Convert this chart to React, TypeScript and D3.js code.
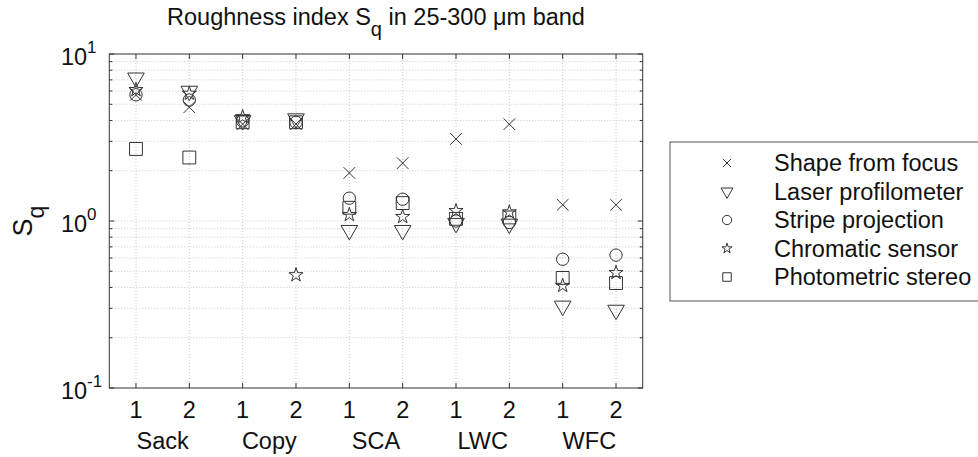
import React from "react";
import * as d3 from "d3";

const groups = ["Sack", "Copy", "SCA", "LWC", "WFC"];
const subLabels = ["1", "2", "1", "2", "1", "2", "1", "2", "1", "2"];
const seriesNames = ["Shape from focus", "Laser profilometer", "Stripe projection", "Chromatic sensor", "Photometric stereo"];
const shapeFromFocus = [5.7, 4.8, 3.8, 3.8, 1.94, 2.22, 3.1, 3.8, 1.25, 1.25];
const laserProfilometer = [7.2, 6.0, 4.0, 4.1, 0.88, 0.88, 0.97, 0.96, 0.31, 0.293];
const stripeProjection = [5.7, 5.3, 3.97, 3.9, 1.37, 1.35, 1.0, 0.98, 0.59, 0.625];
const chromaticSensor = [6.1, 5.8, 4.2, 0.475, 1.09, 1.06, 1.15, 1.13, 0.41, 0.49];
const photometricStereo = [2.7, 2.4, 3.9, 3.9, 1.2, 1.28, 1.03, 1.05, 0.456, 0.425];
const yMajorTicks = [0.1, 1, 10];
const yExponents = ["-1", "0", "1"];

const W = 978, H = 457;
const FONT = "'Liberation Sans', Arial, sans-serif";
const AX = "#333";
const GRID = "#c8c8c8";
const FS = 23.5;

const x = d3.scaleLinear().domain([0.5, 10.5]).range([109.3, 642.7]);
const y = d3.scaleLog().domain([0.1, 10]).range([388, 54]);

const symbols = [
  { type: d3.symbolTimes, size: 90, lsize: 45, rot: 0 },
  { type: d3.symbolTriangle, size: 120, lsize: 62, rot: 180 },
  { type: d3.symbolCircle, size: 120, lsize: 68, rot: 0 },
  { type: d3.symbolStar, size: 62, lsize: 32, rot: 0 },
  { type: d3.symbolSquare, size: 165, lsize: 72, rot: 0 },
];
const allSeries = [shapeFromFocus, laserProfilometer, stripeProjection, chromaticSensor, photometricStereo];

export default function App() {
  const [x0, x1] = x.range();
  const [yb, yt] = y.range();
  const xs = d3.range(1, 11);
  const minor: number[] = [];
  [0.1, 1].forEach((d) => { for (let k = 2; k <= 9; k++) minor.push(d * k); });
  const drawOrder = [4, 3, 2, 1, 0];
  const legX = 670, legY = 142, legH = 159, legStep = 28.5;
  return (
    <svg width={W} height={H} style={{ position: "absolute", left: 0, top: 0, background: "#fff" }} fontFamily={FONT}>
      <rect width={W} height={H} fill="#fff" />
      {/* grid */}
      {xs.map((v) => (
        <line key={"gx" + v} x1={x(v)} x2={x(v)} y1={yt} y2={yb} stroke={GRID} strokeDasharray="1,2" />
      ))}
      {[...yMajorTicks.slice(1, 2), ...minor].map((v, i) => (
        <line key={"gy" + i} x1={x0} x2={x1} y1={y(v)} y2={y(v)} stroke={GRID} strokeDasharray="1,2" />
      ))}
      {/* ticks */}
      {xs.map((v) => (
        <g key={"tx" + v}>
          <line x1={x(v)} x2={x(v)} y1={yb} y2={yb - 5} stroke={AX} />
          <line x1={x(v)} x2={x(v)} y1={yt} y2={yt + 5} stroke={AX} />
          <text x={x(v)} y={418} textAnchor="middle" fontSize={FS} fill="#111">{subLabels[v - 1]}</text>
        </g>
      ))}
      {groups.map((g, i) => (
        <text key={g} x={(x(2 * i + 1) + x(2 * i + 2)) / 2} y={449} textAnchor="middle" fontSize={FS} fill="#111">{g}</text>
      ))}
      {yMajorTicks.map((v, i) => (
        <g key={"ty" + v}>
          <line x1={x0} x2={x0 + 5} y1={y(v)} y2={y(v)} stroke={AX} />
          <line x1={x1} x2={x1 - 5} y1={y(v)} y2={y(v)} stroke={AX} />
          <text x={61} y={y(v) + 11} textAnchor="start" fontSize={FS} fill="#111">10</text>
          <text x={87} y={y(v) - 1} textAnchor="start" fontSize={17} fill="#111">{yExponents[i]}</text>
        </g>
      ))}
      {minor.map((v, i) => (
        <g key={"tm" + i}>
          <line x1={x0} x2={x0 + 3} y1={y(v)} y2={y(v)} stroke={AX} />
          <line x1={x1} x2={x1 - 3} y1={y(v)} y2={y(v)} stroke={AX} />
        </g>
      ))}
      <rect x={x0} y={yt} width={x1 - x0} height={yb - yt} fill="none" stroke={AX} strokeWidth={1} />
      {/* markers */}
      {drawOrder.map((si) => (
        <g key={"s" + si}>
          {allSeries[si].map((v, i) => (
            <path
              key={i}
              d={d3.symbol(symbols[si].type, symbols[si].size)() || ""}
              transform={`translate(${x(i + 1)},${y(v)}) rotate(${symbols[si].rot})`}
              fill="none"
              stroke="#333"
              strokeWidth={1}
            />
          ))}
        </g>
      ))}
      {/* title */}
      <text x={(x0 + x1) / 2} y={25} textAnchor="middle" fontSize={FS} fill="#111">
        Roughness index S<tspan dy={11} fontSize={20}>q</tspan><tspan dy={-11}> in 25-300 μm band</tspan>
      </text>
      {/* y label */}
      <text transform={`translate(32,221) rotate(-90)`} textAnchor="middle" fontSize={27} fill="#111">
        S<tspan dy={12} fontSize={23}>q</tspan>
      </text>
      {/* legend */}
      <rect x={legX} y={legY} width={W - legX + 5} height={legH} fill="#fff" stroke="#555" />
      {seriesNames.map((n, i) => (
        <g key={n} transform={`translate(0,${legY + 21 + i * legStep})`}>
          <path
            d={d3.symbol(symbols[i].type, symbols[i].lsize)() || ""}
            transform={`translate(727,0) rotate(${symbols[i].rot})`}
            fill="none"
            stroke="#333"
          />
          <text x={774} y={8} fontSize={FS} fill="#111">{n}</text>
        </g>
      ))}
    </svg>
  );
}
